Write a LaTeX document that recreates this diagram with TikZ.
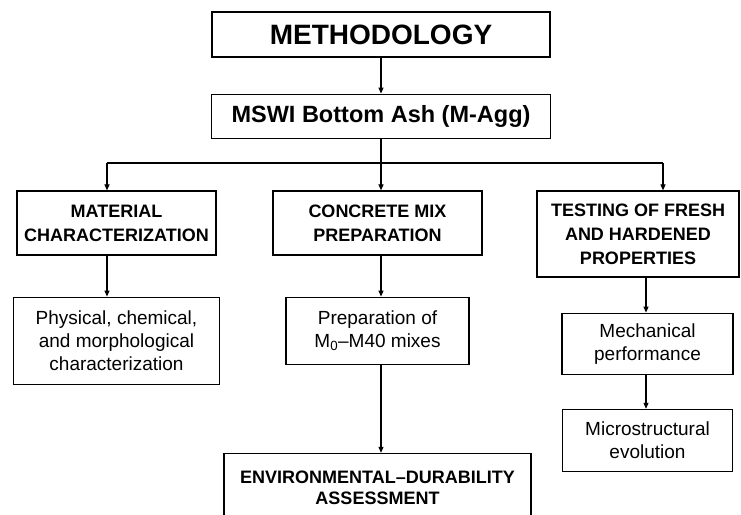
\documentclass[tikz,border=0pt]{standalone}
\usepackage{fontspec}
\setmainfont{Liberation Sans}
\usetikzlibrary{arrows.meta, positioning}

\tikzset{
  box/.style={draw, rectangle, line width=1.2pt, inner sep=0pt, align=center},
  head/.style={box, font=\bfseries\fontsize{18}{24}\selectfont},
  body/.style={box, font=\fontsize{19}{23}\selectfont},
  link/.style={line width=1.1pt},
  arr/.style={link, -{Triangle[length=6pt, width=5pt]}}
}

\begin{document}
\begin{tikzpicture}[x=1pt, y=-1pt]
    \clip (0,0) rectangle (741,514);
    \node[box, font=\bfseries\fontsize{28}{34}\selectfont, minimum width=338pt, minimum height=45pt] (meth) at (381,34.5) {METHODOLOGY};
    \node[box, font=\bfseries\fontsize{23.5}{28}\selectfont, minimum width=339pt, minimum height=44pt, below=36pt of meth] (mswi) {MSWI Bottom Ash (M-Agg)};

    \node[head, minimum width=199pt, minimum height=64pt] (mat) at (116.5,223) {MATERIAL\\CHARACTERIZATION};
    \node[head, minimum width=209pt, minimum height=64pt] (conc) at (377.5,223) {CONCRETE MIX\\PREPARATION};
    \node[head, minimum width=202pt, minimum height=86pt] (test) at (638,234) {TESTING OF FRESH\\AND HARDENED\\PROPERTIES};

    \node[body, minimum width=206pt, minimum height=87pt, below=41pt of mat] (phys) {Physical, chemical,\\and morphological\\characterization};
    \node[body, minimum width=183pt, minimum height=67pt, below=41pt of conc] (prep) {Preparation of\\M\textsubscript{0}–M40 mixes};
    \node[box, font=\bfseries\fontsize{18}{21}\selectfont, minimum width=307pt, minimum height=69pt, below=88pt of prep] (env) {ENVIRONMENTAL–DURABILITY\\ASSESSMENT};
    \node[body, minimum width=171pt, minimum height=61pt, below=35pt of test, xshift=9.5pt] (mech) {Mechanical\\performance};
    \node[body, minimum width=170pt, minimum height=62pt, below=34pt of mech] (micro) {Microstructural\\evolution};

    % branch points
    \coordinate (bm) at (107,163);
    \coordinate (bc) at (381,163);
    \coordinate (bt) at (663,163);
    \coordinate (rt) at (646,0);

    \draw[arr] (meth.south -| bc) -- (mswi.north -| bc);
    \draw[link] (mswi.south -| bc) -- (bc);
    \draw[link] (bm) -- (bt);
    \draw[arr] (bm) -- (bm |- mat.north);
    \draw[arr] (bc) -- (bc |- conc.north);
    \draw[arr] (bt) -- (bt |- test.north);

    \draw[arr] (bm |- mat.south) -- (bm |- phys.north);
    \draw[arr] (bc |- conc.south) -- (bc |- prep.north);
    \draw[arr] (bc |- prep.south) -- (bc |- env.north);
    \draw[arr] (rt |- test.south) -- (rt |- mech.north);
    \draw[arr] (rt |- mech.south) -- (rt |- micro.north);
\end{tikzpicture}
\end{document}
